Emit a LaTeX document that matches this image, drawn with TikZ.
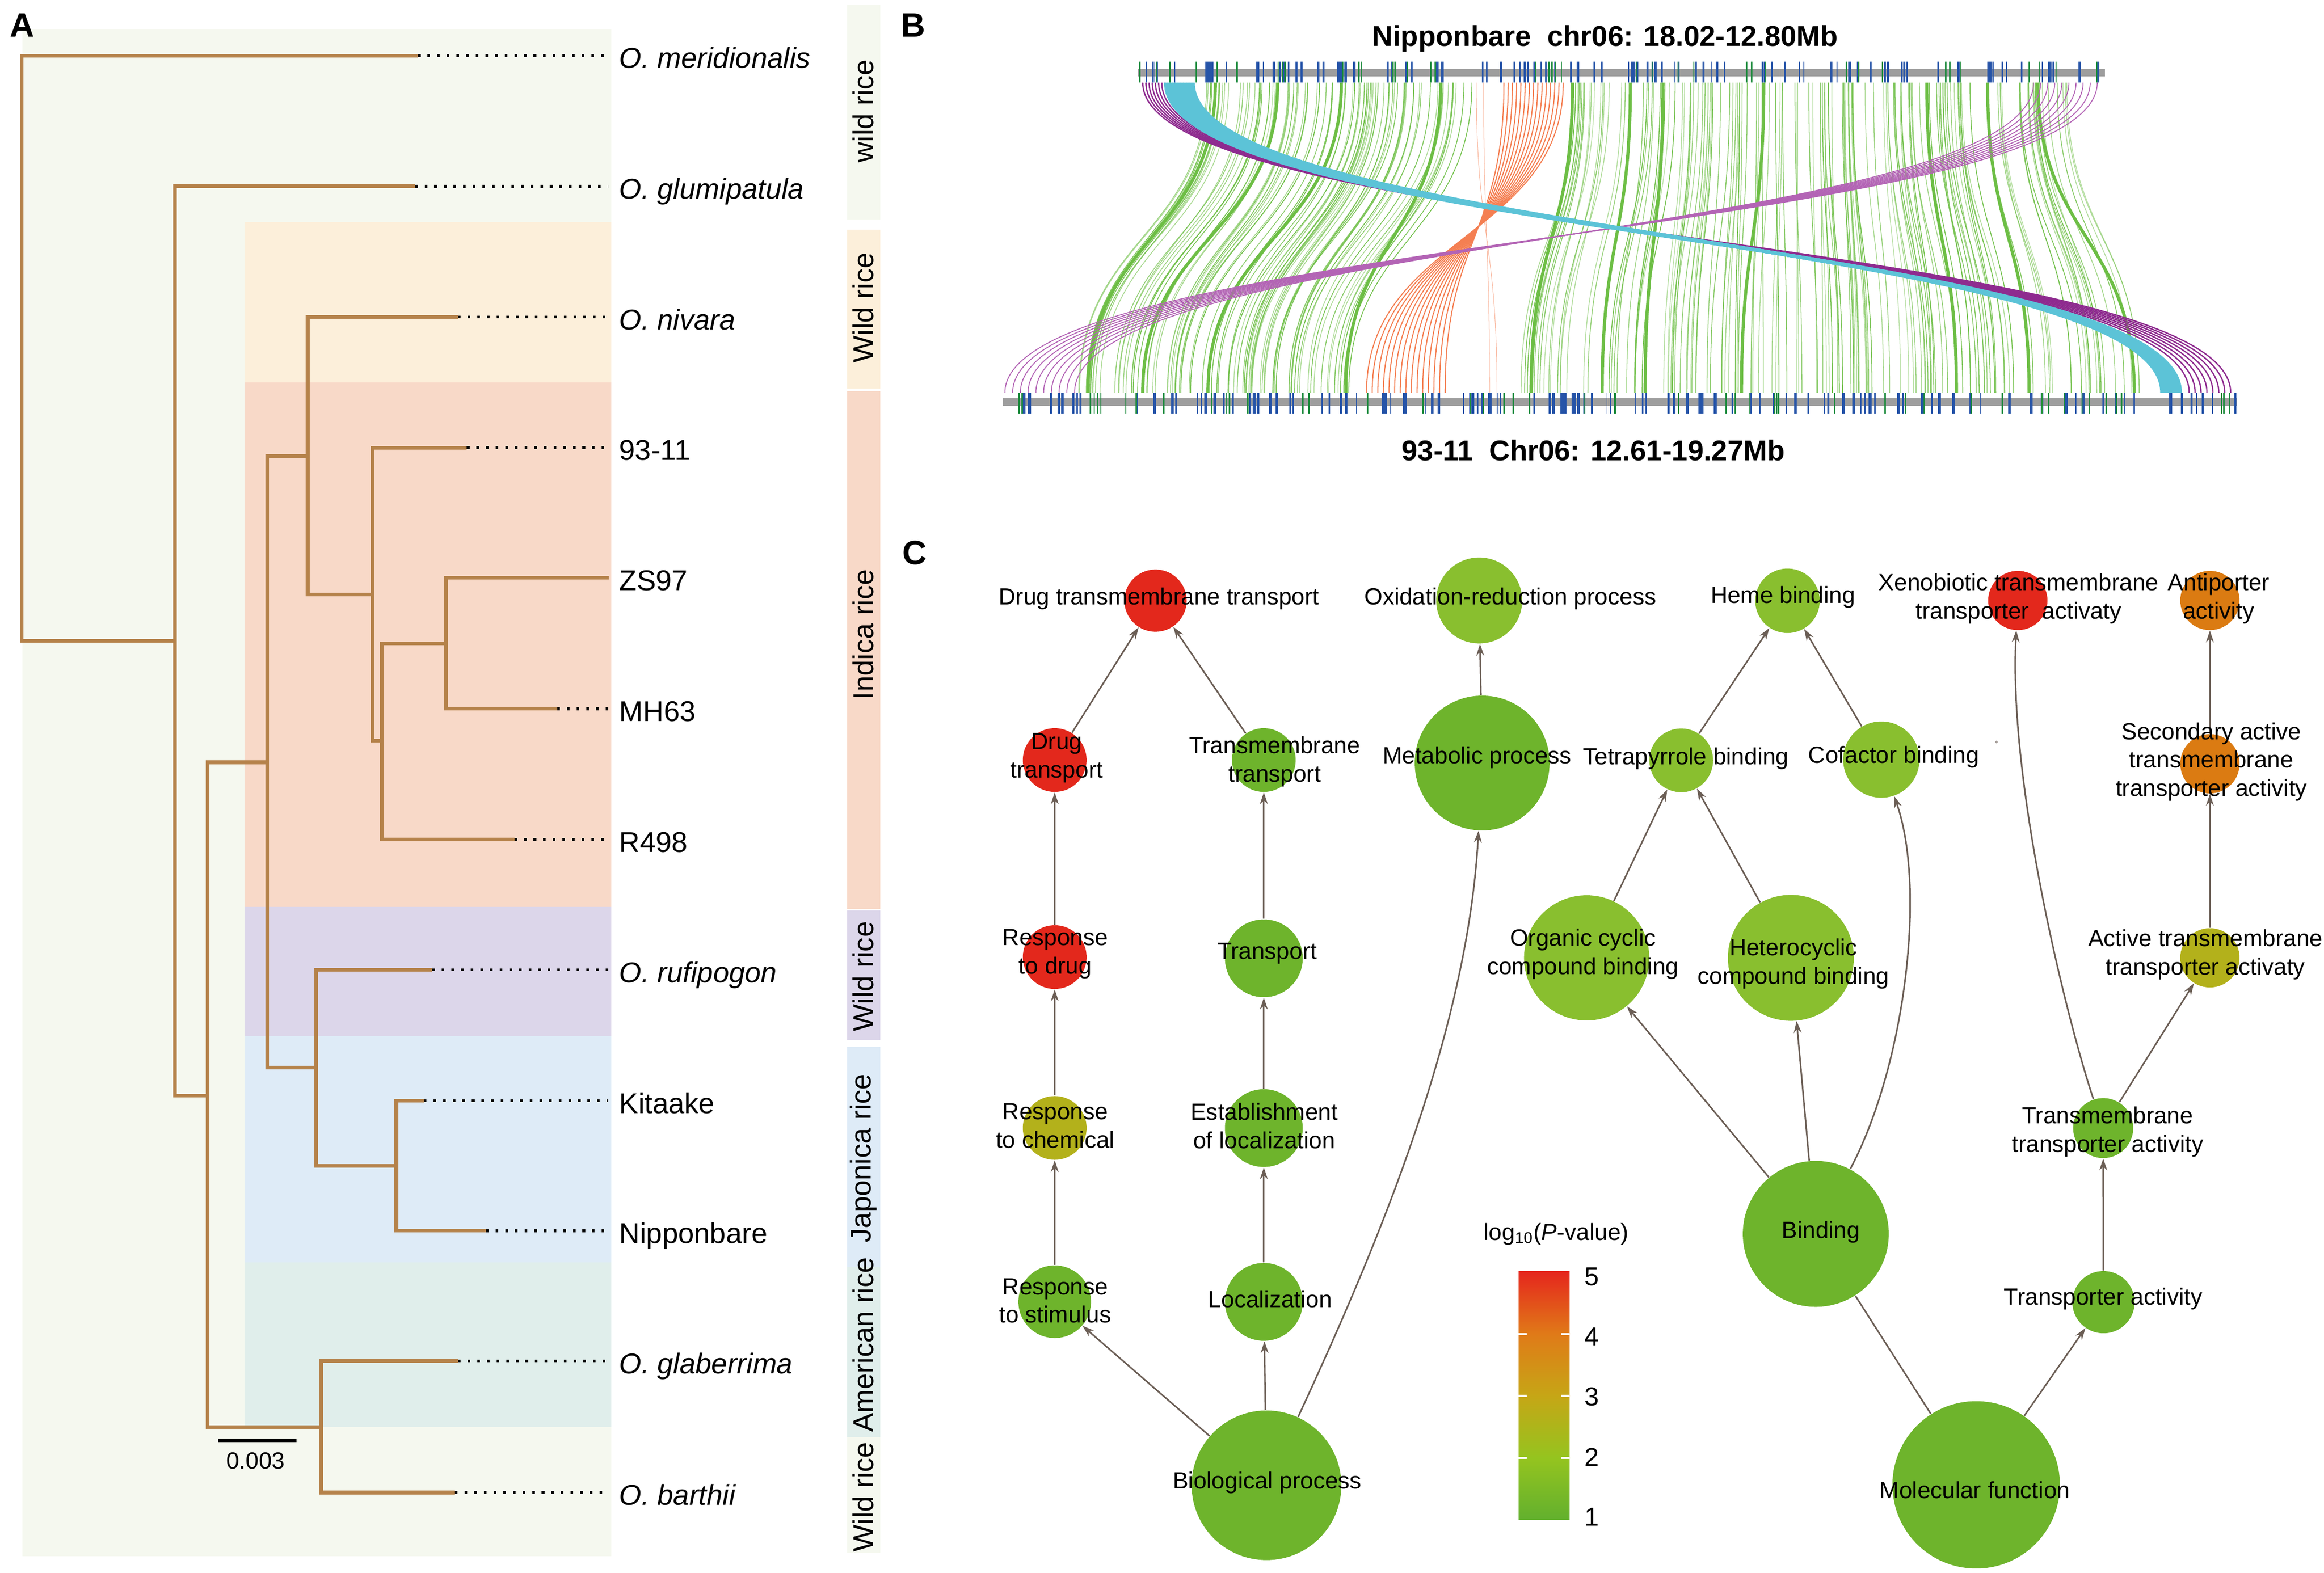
\documentclass[tikz,border=0pt]{standalone}
\usepackage{fontspec}
\setmainfont{Liberation Sans}
\usepackage{xcolor}
\usepackage{tikz}
\usetikzlibrary{arrows.meta}

\definecolor{branchbrown}{HTML}{B5824A}
\definecolor{bgwild}{HTML}{F5F8EF}
\definecolor{bgnivara}{HTML}{FCEFDA}
\definecolor{bgindica}{HTML}{F8D9C8}
\definecolor{bgrufi}{HTML}{DCD6EA}
\definecolor{bgjapo}{HTML}{DEEBF7}
\definecolor{bgamer}{HTML}{E0EEEB}
\definecolor{chrgrey}{HTML}{9E9E9E}
\definecolor{chrblue}{HTML}{2654A8}
\definecolor{chrgreen}{HTML}{1C8A3C}
\definecolor{syngreen}{HTML}{6DBE45}
\definecolor{synorange}{HTML}{F47F52}
\definecolor{syncyan}{HTML}{5CC3D7}
\definecolor{synpurple}{HTML}{8E2B8F}
\definecolor{synlilac}{HTML}{B364B5}
\definecolor{gored}{HTML}{E3281C}
\definecolor{goorange}{HTML}{DB7B12}
\definecolor{goolive}{HTML}{B3B11B}
\definecolor{gogreen}{HTML}{6EB42C}
\definecolor{golime}{HTML}{89BF2F}
\definecolor{arrowbrown}{HTML}{6B5E55}
\definecolor{cb1}{HTML}{62B02E}
\definecolor{cb2}{HTML}{95C41F}
\definecolor{cb3}{HTML}{C6A616}
\definecolor{cb4}{HTML}{E07A18}
\definecolor{cb5}{HTML}{E5261D}

\begin{document}
\begin{tikzpicture}[x=0.02cm, y=-0.02cm,
    branch/.style={draw=branchbrown, line width=1.4pt},
    leader/.style={draw=black, line width=1.1pt, dash pattern=on 1pt off 2.7pt, shorten >=4pt},
    leaf/.style={anchor=base west, inner sep=0pt, font=\fontsize{11}{13}\selectfont},
    striplbl/.style={rotate=90, inner sep=0pt, font=\fontsize{11}{13}\selectfont},
    panellbl/.style={inner sep=0pt, font=\fontsize{13}{15}\selectfont\bfseries},
    chrtitle/.style={inner sep=0pt, font=\fontsize{11}{13}\selectfont\bfseries},
    chrbar/.style={draw=chrgrey, line width=2.8pt},
    syn/.style={draw=syngreen, line width=0.3pt},
    synthick/.style={draw=syngreen, line width=1.2pt},
    goterm/.style={circle, draw=none, inner sep=0pt},
    golbl/.style={align=center, inner sep=0pt, font=\fontsize{9}{10.9}\selectfont},
    goarrow/.style={draw=arrowbrown, line width=0.6pt, -{Stealth[length=4.5pt, width=3pt]}},
    goline/.style={draw=arrowbrown, line width=0.6pt}]
\useasboundingbox (0,0) rectangle (1568,1061.7);

%% ---------- A: tree ----------
\fill[bgwild] (15,20) rectangle (412.5,1050.3);
\fill[bgnivara] (165,150) rectangle (412.5,258);
\fill[bgindica] (165,258) rectangle (412.5,612);
\fill[bgrufi] (165,612) rectangle (412.5,699.4);
\fill[bgjapo] (165,699.4) rectangle (412.5,852);
\fill[bgamer] (165,852) rectangle (412.5,963.2);

% group strips
\fill[bgwild] (571.7,3) rectangle (594,148);
\fill[bgnivara] (571.7,155) rectangle (594,262.4);
\fill[bgindica] (571.7,264) rectangle (594,613.6);
\fill[bgrufi] (571.7,614.4) rectangle (594,701.8);
\fill[bgjapo] (571.7,706.6) rectangle (594,855);
\fill[bgamer] (571.7,855) rectangle (594,970);
\fill[bgwild] (571.7,970) rectangle (594,1048);
\node[striplbl] (s1) at (582.5,75) {wild rice};
\node[striplbl] (s2) at (582.5,207.7) {Wild rice};
\node[striplbl] (s3) at (582.5,428.4) {Indica rice};
\node[striplbl] (s4) at (582.5,659) {Wild rice};
\node[striplbl] (s5) at (582.5,781.8) {Japonica rice};
\node[striplbl] (s6) at (582.5,907.7) {American rice};
\node[striplbl] (s7) at (582.5,1010.4) {Wild rice};

% inner nodes
\coordinate (root) at (14.6,235);
\coordinate (g1) at (118,432.6);
\coordinate (c1) at (140,739.5);
\coordinate (c2) at (180.3,514.5);
\coordinate (ind) at (207.6,307.7);
\coordinate (i2) at (251.3,401.4);
\coordinate (i3) at (257.8,500);
\coordinate (i4) at (301,434.2);
\coordinate (jap) at (213.3,720.7);
\coordinate (j2) at (267.4,786.8);
\coordinate (af) at (216.8,963.2);

% leaves
\foreach \nm/\tx/\ty/\txt in {
    mer/282/37.5/{\textit{O. meridionalis}},
    glu/280/125.7/{\textit{O. glumipatula}},
    niv/309/214/{\textit{O. nivara}},
    9311/315/302.2/{93-11},
    zs/410.6/390/{ZS97},
    mh/376/478.4/{MH63},
    r498/347/566.6/{R498},
    ruf/291.6/654.6/{\textit{O. rufipogon}},
    kit/285.9/742.9/{Kitaake},
    nip/328/830.7/{Nipponbare},
    gla/309/918.6/{\textit{O. glaberrima}},
    bar/307/1007.4/{\textit{O. barthii}}}{
  \coordinate (t\nm) at (\tx,\ty);
  \node[leaf] (l\nm) at (417.5,{\ty+8.5}) {\txt};
}

\foreach \p/\c in {root/tmer, root/g1, g1/tglu, g1/c1, c1/c2, c1/af,
    c2/ind, c2/jap, ind/tniv, ind/i2, i2/t9311, i2/i3, i3/i4, i3/tr498,
    i4/tzs, i4/tmh, jap/truf, jap/j2, j2/tkit, j2/tnip, af/tgla, af/tbar}
  \draw[branch] (\p) |- (\c);

\foreach \nm in {mer,glu,niv,9311,mh,r498,ruf,kit,nip,gla,bar}
  \draw[leader] (t\nm) -- (t\nm -| l\nm.west);

% scale bar
\coordinate (sb1) at (147,972.3);
\coordinate (sb2) at (200,972.3);
\draw[line width=1.4pt] (sb1) -- (sb2);
\node[inner sep=0pt, font=\fontsize{9}{11}\selectfont] (sblbl) at (172.5,986) {0.003};

%% ---------- B: synteny ----------
\node[chrtitle] (toptitle) at (1083,26) {Nipponbare\ \ chr06: 18.02-12.80Mb};
\node[chrtitle] (bottitle) at (1075,304) {93-11\ \ Chr06: 12.61-19.27Mb};

\pgfmathsetseed{11}
\foreach \k in {1,...,85}{
  \pgfmathsetmacro\uu{rnd}
  \pgfmathsetmacro\xtop{814+182*\uu}
  \pgfmathsetmacro\xbot{728+190*\uu+5*rand}
  \pgfmathsetmacro\op{0.45+0.55*rnd}
  \draw[syn, draw opacity=\op] (\xtop,55.8) .. controls (\xtop,160) and (\xbot,160) .. (\xbot,265);
}
\foreach \k in {1,...,140}{
  \pgfmathsetmacro\uu{rnd}
  \pgfmathsetmacro\xtop{1061+336*\uu}
  \pgfmathsetmacro\xbot{1027+416*\uu+5*rand}
  \pgfmathsetmacro\op{0.45+0.55*rnd}
  \draw[syn, draw opacity=\op] (\xtop,55.8) .. controls (\xtop,160) and (\xbot,160) .. (\xbot,265);
}
\foreach \xtop/\xbot in {820/734, 862/771, 905/815, 972/908, 1061/1033,
    1100/1081, 1122/1110, 1190/1175, 1300/1320, 1341/1369, 1375/1440}
  \draw[synthick] (\xtop,55.8) .. controls (\xtop,160) and (\xbot,160) .. (\xbot,265);

% inverted blocks
\foreach \k in {0,...,14}{
  \pgfmathsetmacro\xtop{1014.7+40*\k/14}
  \pgfmathsetmacro\xbot{975-53*\k/14}
  \draw[synorange, line width=0.4pt] (\xtop,55.8) .. controls (\xtop,160) and (\xbot,160) .. (\xbot,265);
}
\foreach \xtop/\xbot in {996/1010, 1001/1005}
  \draw[synorange, line width=0.2pt, draw opacity=0.6] (\xtop,55.8) .. controls (\xtop,160) and (\xbot,160) .. (\xbot,265);
\foreach \k in {0,...,7}{
  \pgfmathsetmacro\xtop{771+15*\k/7}
  \pgfmathsetmacro\xbot{1505-28*\k/7}
  \draw[synpurple, line width=0.5pt] (\xtop,55.8) .. controls (\xtop,160) and (\xbot,160) .. (\xbot,265);
}
\foreach \k in {0,...,9}{
  \pgfmathsetmacro\xtop{1372+43*\k/9}
  \pgfmathsetmacro\xbot{725-47*\k/9}
  \draw[synlilac, line width=0.35pt] (\xtop,55.8) .. controls (\xtop,160) and (\xbot,160) .. (\xbot,265);
}
\foreach \k in {0,...,10}{
  \pgfmathsetmacro\xtop{786.5+18.5*\k/10}
  \pgfmathsetmacro\xbot{1471-12.4*\k/10}
  \draw[syncyan, line width=1.3pt] (\xtop,55.8) .. controls (\xtop,160) and (\xbot,160) .. (\xbot,265);
}

% chromosomes
\coordinate (topL) at (768,49);
\coordinate (topR) at (1420.3,49);
\coordinate (botL) at (676.8,271.4);
\coordinate (botR) at (1509.1,271.4);
\draw[chrbar] (topL) -- (topR);
\draw[chrbar] (botL) -- (botR);
\foreach \k in {1,...,110}{
  \pgfmathsetmacro\xx{768+652*rnd}
  \pgfmathsetmacro\ww{0.3+0.8*rnd}
  \draw[chrblue, line width=\ww pt] (\xx,41.7) -- (\xx,55.8);
}
\foreach \k in {1,...,40}{
  \pgfmathsetmacro\xx{768+652*rnd}
  \draw[chrgreen, line width=0.5pt] (\xx,41.7) -- (\xx,55.8);
}
\foreach \k in {1,...,130}{
  \pgfmathsetmacro\xx{676.8+832*rnd}
  \pgfmathsetmacro\ww{0.3+0.8*rnd}
  \draw[chrblue, line width=\ww pt] (\xx,265) -- (\xx,279);
}
\foreach \k in {1,...,50}{
  \pgfmathsetmacro\xx{676.8+832*rnd}
  \draw[chrgreen, line width=0.5pt] (\xx,265) -- (\xx,279);
}

%% ---------- C: GO graph ----------
\node[goterm, fill=gored, minimum size=0.84cm] (dtt) at (779.6,405.4) {};
\node[goterm, fill=gored, minimum size=0.86cm] (drugtr) at (711.6,513) {};
\node[goterm, fill=gogreen, minimum size=0.86cm] (tmtr) at (852.7,513) {};
\node[goterm, fill=gogreen, minimum size=1.82cm] (metab) at (1000,515) {};
\node[goterm, fill=golime, minimum size=1.16cm] (oxid) at (998,405.3) {};
\node[goterm, fill=gored, minimum size=0.86cm] (respdrug) at (711.6,646) {};
\node[goterm, fill=gogreen, minimum size=1.05cm] (transport) at (852.7,646.8) {};
\node[goterm, fill=golime, minimum size=1.69cm] (organic) at (1070.5,646.5) {};
\node[goterm, fill=golime, minimum size=1.70cm] (hetero) at (1208.3,646.5) {};
\node[goterm, fill=goolive, minimum size=0.86cm] (respchem) at (711.6,761.3) {};
\node[goterm, fill=gogreen, minimum size=1.05cm] (estloc) at (852.7,761.4) {};
\node[goterm, fill=gogreen, minimum size=0.98cm] (respstim) at (711.6,878.6) {};
\node[goterm, fill=gogreen, minimum size=1.05cm] (loc) at (852.7,878.7) {};
\node[goterm, fill=gogreen, minimum size=2.02cm] (bio) at (854.5,1002.5) {};
\node[goterm, fill=golime, minimum size=0.87cm] (heme) at (1206,405.5) {};
\node[goterm, fill=gored, minimum size=0.80cm] (xeno) at (1361.4,405.3) {};
\node[goterm, fill=goorange, minimum size=0.80cm] (anti) at (1491,405.3) {};
\node[goterm, fill=golime, minimum size=0.86cm] (tetra) at (1134.3,513.2) {};
\node[goterm, fill=golime, minimum size=1.03cm] (cofac) at (1269.3,512.7) {};
\node[goterm, fill=goorange, minimum size=0.80cm] (second) at (1491,515.5) {};
\node[goterm, fill=goolive, minimum size=0.80cm] (active) at (1491,646.5) {};
\node[goterm, fill=gogreen, minimum size=1.97cm] (binding) at (1225.1,832.8) {};
\node[goterm, fill=gogreen, minimum size=0.81cm] (tmta) at (1419,761.4) {};
\node[goterm, fill=gogreen, minimum size=0.84cm] (transpact) at (1419.2,878.9) {};
\node[goterm, fill=gogreen, minimum size=2.26cm] (molec) at (1333.3,1002.2) {};
\fill[arrowbrown!60] (1347,500.8) circle (0.9);

\foreach \a/\b in {drugtr/dtt, tmtr/dtt, respdrug/drugtr, transport/tmtr,
    respchem/respdrug, estloc/transport, respstim/respchem, loc/estloc,
    bio/respstim, bio/loc, metab/oxid, tetra/heme, cofac/heme,
    organic/tetra, hetero/tetra, binding/organic, binding/hetero,
    molec/transpact, transpact/tmta, tmta/active, active/second, second/anti}
  \draw[goarrow] (\a) -- (\b);
\draw[goline] (molec) -- (binding);
\draw[goarrow] (bio) .. controls (925,850) and (990,700) .. (metab);
\draw[goarrow] (binding) .. controls (1285,720) and (1300,600) .. (cofac);
\draw[goarrow] (tmta) .. controls (1395,690) and (1355,530) .. (xeno);

\node[golbl] (ldtt) at (782,404) {Drug transmembrane transport};
\node[golbl] (ldrugtr) at (713,511.5) {Drug\\transport};
\node[golbl] (ltmtr) at (860,514) {Transmembrane\\transport};
\node[golbl] (lmetab) at (996.6,511.4) {Metabolic process};
\node[golbl] (loxid) at (1019,404) {Oxidation-reduction process};
\node[golbl] (lrespdrug) at (712,644) {Response\\to drug};
\node[golbl] (ltransport) at (855,643.6) {Transport};
\node[golbl] (lorganic) at (1068,644) {Organic cyclic\\compound binding};
\node[golbl] (lhetero) at (1210,650.4) {Heterocyclic\\compound binding};
\node[golbl] (lrespchem) at (712,760) {Response\\to chemical};
\node[golbl] (lestloc) at (853,760) {Establishment\\of localization};
\node[golbl] (lrespstim) at (712,878) {Response\\to stimulus};
\node[golbl] (lloc) at (857,876.7) {Localization};
\node[golbl] (lbio) at (855,1000.8) {Biological process};
\node[golbl] (lheme) at (1203,402.9) {Heme binding};
\node[golbl] (lxeno) at (1362,404) {Xenobiotic transmembrane\\transporter\ \ activaty};
\node[golbl] (lanti) at (1497,404) {Antiporter\\activity};
\node[golbl] (ltetra) at (1137.5,511.9) {Tetrapyrrole binding};
\node[golbl] (lcofac) at (1277.7,511) {Cofactor binding};
\node[golbl] (lsecond) at (1492,514.2) {Secondary active\\transmembrane\\transporter activity};
\node[golbl] (lactive) at (1488,644.4) {Active transmembrane\\transporter activaty};
\node[golbl] (lbinding) at (1228.5,831.6) {Binding};
\node[golbl] (ltmta) at (1422,764) {Transmembrane\\transporter activity};
\node[golbl] (ltranspact) at (1419,876.7) {Transporter activity};
\node[golbl] (lmolec) at (1332.4,1005.8) {Molecular function};

% colour bar
\foreach \v/\ca/\cb in {1/cb1/cb2, 2/cb2/cb3, 3/cb3/cb4, 4/cb4/cb5}
  \shade[bottom color=\ca, top color=\cb] (1024.6,{1025.9-(\v-1)*41.85}) rectangle (1059,{1025.9-\v*41.85-0.3});
\foreach \v in {2,3,4}{
  \draw[white, line width=0.8pt] (1024.6,{1025.9-(\v-1)*41.85}) -- (1030,{1025.9-(\v-1)*41.85});
  \draw[white, line width=0.8pt] (1053.6,{1025.9-(\v-1)*41.85}) -- (1059,{1025.9-(\v-1)*41.85});
}
\foreach \v in {1,...,5}
  \node[inner sep=0pt, font=\fontsize{10}{12}\selectfont] (cbt\v) at (1074,{1024-(\v-1)*40.6}) {\v};
\node[golbl] (cbtitle) at (1050,833) {log\textsubscript{10}(\textit{P}-value)};

% panel letters
\node[panellbl] (labA) at (15,17) {A};
\node[panellbl] (labB) at (616,17) {B};
\node[panellbl] (labC) at (617,373) {C};
\end{tikzpicture}
\end{document}
